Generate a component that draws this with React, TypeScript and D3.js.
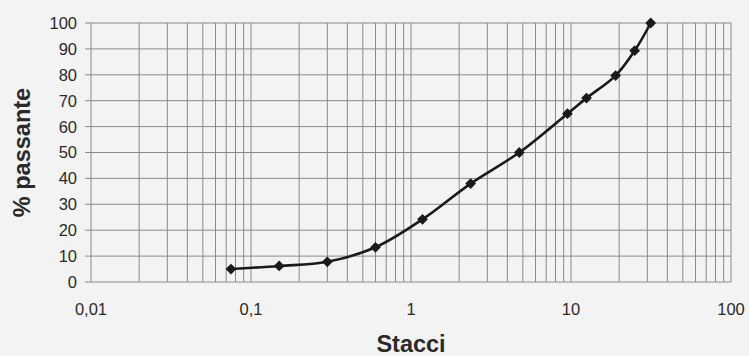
import React from "react";
import * as d3 from "d3";

const sieveSizes = [0.075, 0.15, 0.3, 0.6, 1.18, 2.36, 4.75, 9.5, 12.5, 19, 25, 31.5];
const passing = [5, 6.2, 7.8, 13.4, 24.2, 38, 50, 65, 71, 79.7, 89.3, 100];
const xTicks = [0.01, 0.1, 1, 10, 100];
const xTickLabels = ["0,01", "0,1", "1", "10", "100"];
const yTicks = [0, 10, 20, 30, 40, 50, 60, 70, 80, 90, 100];

const W = 749;
const H = 356;
const left = 91;
const right = 731;
const top = 23;
const bottom = 282;

export default function App() {
  const x = d3.scaleLog().domain([0.01, 100]).range([left, right]);
  const y = d3.scaleLinear().domain([0, 100]).range([bottom, top]);

  const minorGrid: number[] = [];
  for (let e = -2; e < 2; e++) {
    for (let m = 2; m <= 9; m++) minorGrid.push(m * Math.pow(10, e));
  }
  const majorGrid = xTicks;

  const pts: [number, number][] = sieveSizes.map((s, i) => [x(s), y(passing[i])]);
  const line = d3.line().curve(d3.curveCatmullRom.alpha(0.5))(pts) || "";
  const marker = d3.symbol().type(d3.symbolSquare).size(58)() || "";

  const gridColor = "#8a8a8a";
  const textColor = "#2a2a2a";
  const font = "'Liberation Sans', Arial, sans-serif";

  return (
    <svg
      width={W}
      height={H}
      style={{ position: "absolute", left: 0, top: 0, background: "#f3f3f3" }}
      fontFamily={font}
    >
      <rect x={0} y={0} width={W} height={H} fill="#f3f3f3" />
      {yTicks.map((t) => (
        <g key={"y" + t}>
          <line x1={85} x2={right} y1={y(t)} y2={y(t)} stroke={gridColor} strokeWidth={1} />
          <text x={77} y={y(t)} dy="0.36em" textAnchor="end" fontSize={16.5} fill={textColor}>
            {t}
          </text>
        </g>
      ))}
      {minorGrid.map((v, i) => (
        <line key={"m" + i} x1={x(v)} x2={x(v)} y1={top} y2={bottom} stroke={gridColor} strokeWidth={1} />
      ))}
      {majorGrid.map((v, i) => (
        <line key={"M" + i} x1={x(v)} x2={x(v)} y1={top} y2={bottom} stroke={gridColor} strokeWidth={1} />
      ))}
      {xTicks.map((v, i) => (
        <text key={"xl" + i} x={x(v)} y={315} textAnchor="middle" fontSize={16.5} fill={textColor}>
          {xTickLabels[i]}
        </text>
      ))}
      <path d={line} fill="none" stroke="#1a1a1a" strokeWidth={2.6} />
      {pts.map((p, i) => (
        <path key={"p" + i} d={marker} transform={`translate(${p[0]},${p[1]}) rotate(45)`} fill="#1a1a1a" />
      ))}
      <text x={(left + right) / 2} y={352} textAnchor="middle" fontSize={23.5} fontWeight="bold" fill={textColor}>
        Stacci
      </text>
      <text
        transform={`translate(30,${(top + bottom) / 2}) rotate(-90)`}
        textAnchor="middle"
        fontSize={23.5}
        fontWeight="bold"
        fill={textColor}
      >
        % passante
      </text>
    </svg>
  );
}
